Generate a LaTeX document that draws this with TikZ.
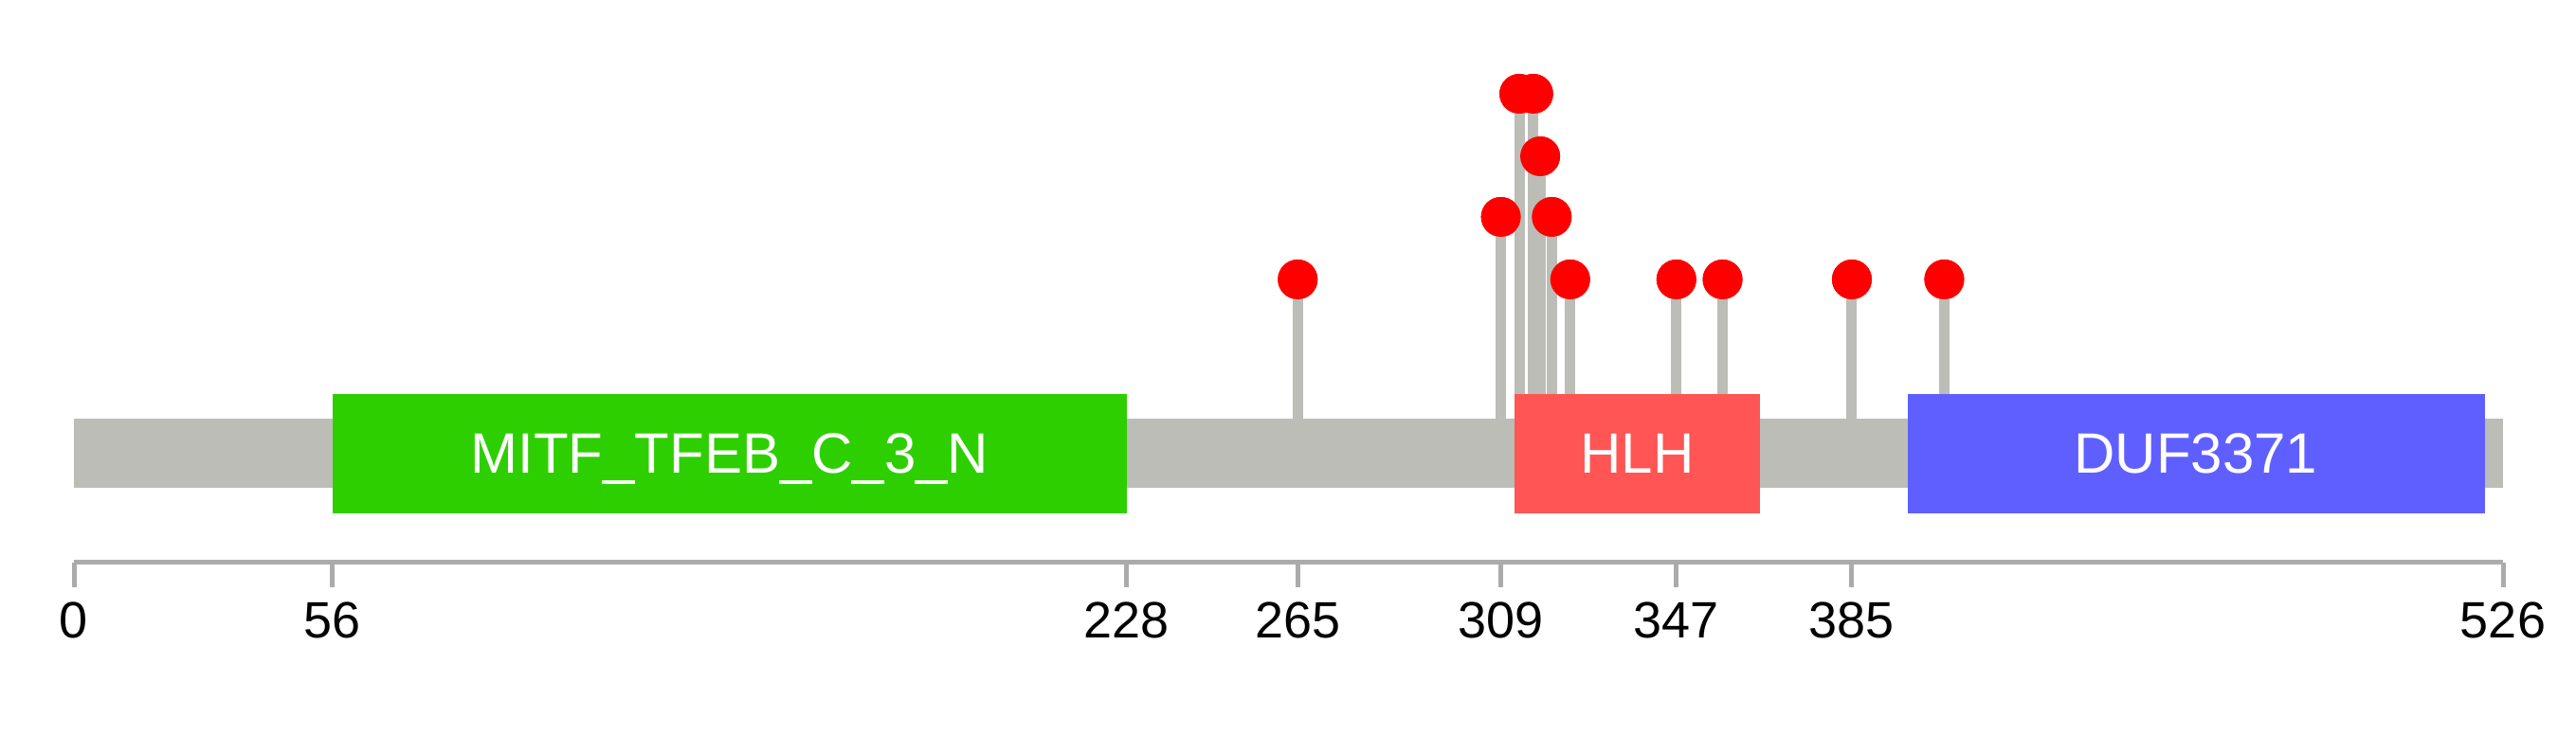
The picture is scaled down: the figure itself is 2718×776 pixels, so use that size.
\documentclass[tikz,border=0pt]{standalone}
\usepackage{fontspec}
\setmainfont{Liberation Sans}
\definecolor{bbar}{HTML}{BBBDB6}
\definecolor{gdom}{HTML}{2ECF00}
\definecolor{rdom}{HTML}{FF5555}
\definecolor{bdom}{HTML}{5F5FFF}
\definecolor{axc}{HTML}{ABABAB}
\definecolor{lolly}{HTML}{FF0000}
\tikzset{
  dombox/.style={draw=none, minimum height=126pt, inner sep=0pt},
  domlab/.style={text=white, font=\fontsize{60}{62}\selectfont, anchor=base, inner sep=0pt},
  stem/.style={draw=bbar, line width=11pt},
  head/.style={circle, fill=lolly, minimum size=42pt, inner sep=0pt},
  tickline/.style={draw=axc, line width=5pt},
  ticklab/.style={anchor=base, inner sep=0pt, font=\fontsize{54}{56}\selectfont}
}
\newcommand{\px}[1]{78+#1*4.8726}
\begin{document}
\begin{tikzpicture}[x=1pt,y=-1pt]
\useasboundingbox (0,0) rectangle (2718,776);
% backbone
\node[fill=bbar, draw=none, inner sep=0pt, minimum height=73pt, minimum width={526*4.8726pt}, anchor=west] (bar) at ({\px{0}},478.5) {};
% stems and heads
\foreach \p/\y/\n in {265/295/a, 309/229/b, 313/99/c, 316/99/d, 317.5/165/e, 320/229/f, 324/295/g, 347/295/h, 357/295/i, 385/295/j, 405/295/k} {
  \coordinate (s\n) at ({\px{\p}},478);
  \node[head] (h\n) at ({\px{\p}},\y) {};
}
\foreach \n in {a,b,c,d,e,f,g,h,i,j,k} {
  \draw[stem] (s\n) -- (h\n.center);
}
% domains
\node[dombox, fill=gdom, minimum width={172*4.8726pt}, anchor=west] (mitf) at ({\px{56}},478.5) {};
\node[domlab] (mitfl) at ({\px{142}},499) {MITF\_TFEB\_C\_3\_N};
\node[dombox, fill=rdom, minimum width={53*4.8726pt}, anchor=west] (hlh) at ({\px{312}},478.5) {};
\node[domlab] (hlhl) at ({\px{338.5}},499) {HLH};
\node[dombox, fill=bdom, minimum width={125*4.8726pt}, anchor=west] (duf) at ({\px{397}},478.5) {};
\node[domlab] (dufl) at ({\px{459.5}},499) {DUF3371};
% heads on top
\foreach \p/\y/\n in {265/295/a, 309/229/b, 313/99/c, 316/99/d, 317.5/165/e, 320/229/f, 324/295/g, 347/295/h, 357/295/i, 385/295/j, 405/295/k} {
  \node[head] at ({\px{\p}},\y) {};
}
% axis
\coordinate (ax0) at ({\px{0}},593.5);
\coordinate (ax1) at ({\px{526}},593.5);
\draw[tickline] (ax0) -- (ax1);
\foreach \t in {0,56,228,265,309,347,385,526} {
  \coordinate (t\t) at ({\px{\t}},593.5);
  \coordinate (u\t) at ({\px{\t}},620);
  \draw[tickline] (t\t) -- (u\t);
  \node[ticklab] (l\t) at ({\px{\t}},673) {\t};
}
\end{tikzpicture}
\end{document}
